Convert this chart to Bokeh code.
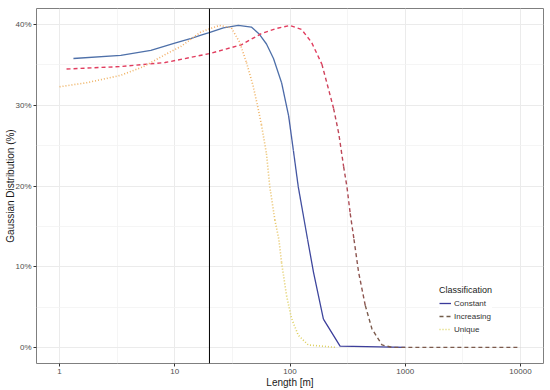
from bokeh.plotting import figure
from bokeh.models import FixedTicker, Span, Legend, LegendItem, ColumnDataSource
from bokeh.embed import file_html
from bokeh.resources import INLINE

# ---- data ----
len_constant = [1.32, 3.4, 6.2, 10, 13.9, 16.9, 19.9, 26.4, 35.6, 46.2, 54.3, 62.5, 71.9, 84.5, 97.3, 107, 118, 142, 160, 195, 272, 1000]
pct_constant = [35.8, 36.2, 36.8, 37.7, 38.3, 38.7, 39.0, 39.6, 39.9, 39.7, 38.8, 37.6, 35.8, 32.8, 28.7, 24.4, 19.9, 13.4, 9.3, 3.5, 0.16, 0.0]

len_increasing = [1.15, 3.34, 8.23, 19.9, 37.8, 56.5, 75, 99.8, 126, 154, 189, 216, 239, 265, 292, 312, 333, 359, 394, 450, 514, 629, 769, 10000]
pct_increasing = [34.5, 34.8, 35.3, 36.4, 37.5, 38.9, 39.5, 39.9, 39.4, 37.8, 35.1, 32.0, 29.6, 26.5, 22.4, 19.9, 16.6, 13.4, 9.3, 5.2, 2.3, 0.3, 0.0, 0.0]

len_unique = [1.0, 1.72, 3.36, 5.37, 8.28, 11.3, 16.9, 24.5, 31, 36.6, 41.9, 47.9, 52.9, 56.5, 62.5, 66.8, 73.9, 80, 84.5, 93.4, 103, 118, 144, 250]
pct_unique = [32.3, 32.8, 33.7, 34.8, 36.3, 37.3, 39.1, 39.9, 39.6, 37.8, 35.3, 32.4, 29.6, 27.6, 24.0, 19.9, 15.8, 13.4, 10.5, 6.4, 3.6, 1.5, 0.3, 0.0]

series_names = ["Constant", "Increasing", "Unique"]
vline_length = 20

x_ticks = [1, 10, 100, 1000, 10000]
x_tick_labels = ["1", "10", "100", "1000", "10000"]
x_minor = [10 ** 0.5, 10 ** 1.5, 10 ** 2.5, 10 ** 3.5]
y_ticks = [0, 10, 20, 30, 40]
y_tick_labels = ["0%", "10%", "20%", "30%", "40%"]
y_minor = [5, 15, 25, 35]

FONT = "Liberation Sans"


def hex2rgb(h):
    h = h.lstrip("#")
    return tuple(int(h[i:i + 2], 16) for i in (0, 2, 4))


def lerp(lo, hi, t):
    a, b = hex2rgb(lo), hex2rgb(hi)
    return "#%02x%02x%02x" % tuple(int(round(a[i] + (b[i] - a[i]) * t)) for i in range(3))


p = figure(width=550, height=390, x_axis_type="log",
           x_range=(10 ** -0.2, 10 ** 4.2), y_range=(-2, 42),
           output_backend="svg", toolbar_location=None,
           min_border_left=36, min_border_right=7, min_border_top=8, min_border_bottom=24)

p.background_fill_color = "white"
p.border_fill_color = "white"
p.outline_line_color = "#7f7f7f"
p.outline_line_width = 1

xt = FixedTicker(ticks=x_ticks, minor_ticks=x_minor)
yt = FixedTicker(ticks=y_ticks, minor_ticks=y_minor)
p.xaxis.ticker = xt
p.yaxis.ticker = yt
p.xgrid.ticker = xt
p.ygrid.ticker = yt
for g in (p.xgrid, p.ygrid):
    g.grid_line_color = "#ebebeb"
    g.grid_line_width = 1
    g.minor_grid_line_color = "#f3f3f3"
    g.minor_grid_line_width = 0.8

p.xaxis.major_label_overrides = {v: s for v, s in zip(x_ticks, x_tick_labels)}
p.yaxis.major_label_overrides = {v: s for v, s in zip(y_ticks, y_tick_labels)}

for ax in (p.xaxis, p.yaxis):
    ax.axis_line_color = None
    ax.major_tick_line_color = "#333333"
    ax.major_tick_in = 0
    ax.major_tick_out = 3
    ax.minor_tick_line_color = None
    ax.major_label_text_font = FONT
    ax.major_label_text_font_size = "8px"
    ax.major_label_text_color = "#4d4d4d"
    ax.major_label_standoff = 1
    ax.axis_label_text_font = FONT
    ax.axis_label_text_font_size = "10px"
    ax.axis_label_text_font_style = "normal"
    ax.axis_label_text_color = "#1a1a1a"
    ax.axis_label_standoff = 0
p.yaxis.axis_label_standoff = -4

p.xaxis.axis_label = "Length [m]"
p.yaxis.axis_label = "Gaussian Distribution (%)"


def gradient_line(xs, ys, lo, hi, dash, width, nbands=7):
    polys_x, polys_y, cols = [], [], []
    cur_band = None
    for i in range(len(xs) - 1):
        m = (ys[i] + ys[i + 1]) / 2.0
        b = min(nbands - 1, int(m / 40.0 * nbands))
        if b != cur_band:
            polys_x.append([xs[i]])
            polys_y.append([ys[i]])
            cols.append(lerp(lo, hi, (b + 0.5) / nbands))
            cur_band = b
        polys_x[-1].append(xs[i + 1])
        polys_y[-1].append(ys[i + 1])
    p.multi_line(xs=polys_x, ys=polys_y, line_color=cols, line_width=width,
                 line_dash=dash, line_join="round")


styles = {
    "Constant": dict(lo="#3a3a9a", hi="#4f74aa", dash="solid", width=1.3),
    "Increasing": dict(lo="#725c4a", hi="#ea3a60", dash="4 3", width=1.4),
    "Unique": dict(lo="#dcd35e", hi="#f4aa66", dash="1 2", width=1.6),
}
data = {
    "Constant": (len_constant, pct_constant),
    "Increasing": (len_increasing, pct_increasing),
    "Unique": (len_unique, pct_unique),
}

items = []
for name in series_names:
    st = styles[name]
    xs, ys = data[name]
    gradient_line(xs, ys, st["lo"], st["hi"], st["dash"], st["width"])
    # off-screen renderer, used only to draw the legend key
    r = p.line(x="x", y="y", source=ColumnDataSource(dict(x=[1e7, 1e8], y=[100, 100])),
               line_color=st["lo"], line_dash=st["dash"], line_width=st["width"])
    items.append(LegendItem(label=name, renderers=[r]))

p.add_layout(Span(location=vline_length, dimension="height", line_color="black", line_width=1))

legend = Legend(items=items, location=(403, 29))
legend.title = "Classification"
legend.title_text_font = FONT
legend.title_text_font_size = "9px"
legend.title_text_font_style = "normal"
legend.title_text_color = "#1a1a1a"
legend.title_standoff = 3
legend.label_text_font = FONT
legend.label_text_font_size = "8px"
legend.label_text_color = "#333333"
legend.label_standoff = 3
legend.glyph_width = 12
legend.glyph_height = 10
legend.label_height = 10
legend.spacing = 3
legend.padding = 2
legend.margin = 0
legend.border_line_color = None
legend.background_fill_color = "white"
legend.background_fill_alpha = 1
p.add_layout(legend)

open("out.html", "w").write(file_html(p, INLINE))
